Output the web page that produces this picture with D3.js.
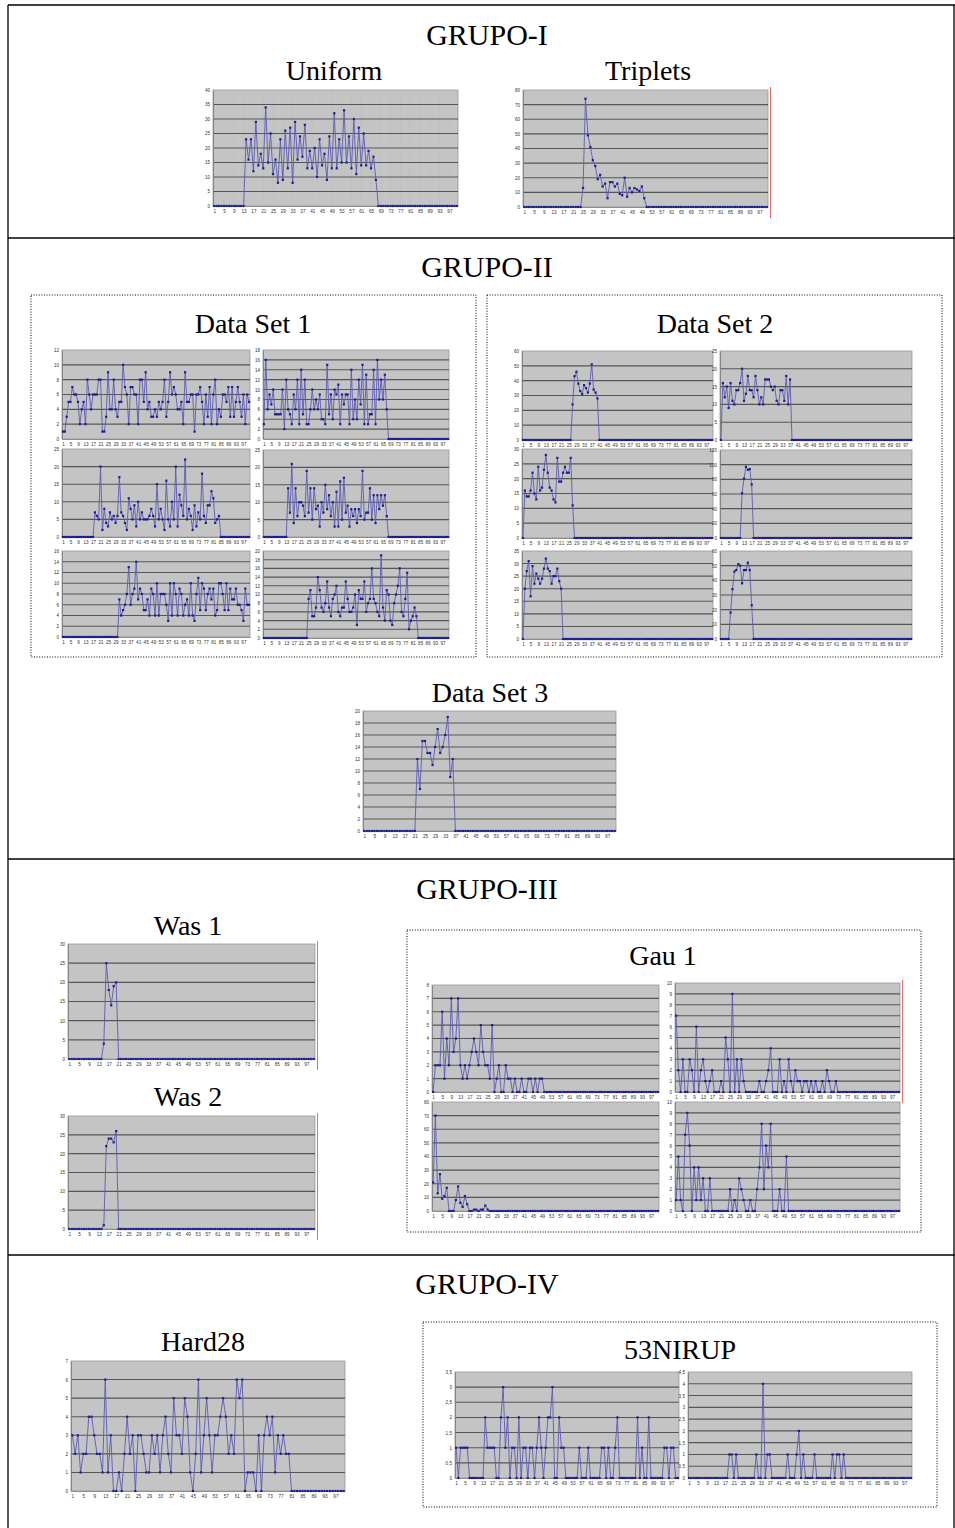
<!DOCTYPE html>
<html>
<head>
<meta charset="utf-8">
<script src="https://cdn.jsdelivr.net/npm/d3@7"></script>
<style>
  body { margin: 0; background: #fff; }
  svg { display: block; }
</style>
</head>
<body>
<svg width="955" height="1528"></svg>
<script>
// ---- data (100 samples per chart) ----
const xTickLabels = [1,5,9,13,17,21,25,29,33,37,41,45,49,53,57,61,65,69,73,77,81,85,89,93,97];

const uniform = [
  0,0,0,0,0,0,0,0,0,0,
  0,0,0,23,16,23,12,29,14,18,
  13,34,15,25,11,16,8,23,9,26,
  13,27,8,29,16,24,17,28,13,19,
  13,20,10,23,14,18,9,24,13,32,
  13,23,15,33,15,24,13,30,11,27,
  14,25,14,19,13,17,9,0,0,0,
  0,0,0,0,0,0,0,0,0,0,
  0,0,0,0,0,0,0,0,0,0,
  0,0,0,0,0,0,0,0,0,0];

const triplets = [
  0,0,0,0,0,0,0,0,0,0,
  0,0,0,0,0,0,0,0,0,0,
  0,0,0,0,13,74,49,41,32,28,
  19,22,14,16,6,17,17,14,16,9,
  8,20,7,13,10,13,12,11,14,6,
  0,0,0,0,0,0,0,0,0,0,
  0,0,0,0,0,0,0,0,0,0,
  0,0,0,0,0,0,0,0,0,0,
  0,0,0,0,0,0,0,0,0,0,
  0,0,0,0,0,0,0,0,0,0];

const ds1a = [
  1,1,3,5,5,7,6,6,5,2,
  4,5,2,8,6,4,6,6,6,8,
  8,1,1,3,9,4,4,8,4,3,
  5,5,10,7,6,2,7,7,6,6,
  2,8,8,5,9,4,5,3,3,4,
  3,5,4,5,8,3,5,9,6,7,
  6,4,4,5,2,9,5,5,6,6,
  1,6,6,7,5,2,6,3,7,2,
  6,8,2,4,3,6,6,5,7,3,
  7,3,5,7,5,3,6,2,6,5];

const ds1b = [
  3,16,6,9,7,10,5,5,5,5,
  10,2,12,6,5,3,9,6,12,3,
  14,5,12,3,3,6,10,6,8,6,
  9,4,4,3,15,5,9,4,10,9,
  11,3,9,7,9,9,3,14,4,8,
  4,12,7,15,3,13,3,5,5,14,
  3,16,8,12,8,13,6,0,0,0,
  0,0,0,0,0,0,0,0,0,0,
  0,0,0,0,0,0,0,0,0,0,
  0,0,0,0,0,0,0,0,0,0];

const ds1c = [
  0,0,0,0,0,0,0,0,0,0,
  0,0,0,0,0,0,0,7,6,5,
  20,2,8,4,3,7,5,6,4,6,
  17,7,6,4,2,11,8,5,9,3,
  10,5,7,5,5,5,6,8,6,3,
  15,5,8,5,2,16,5,3,10,5,
  20,3,12,9,6,22,5,8,6,2,
  9,3,7,5,18,6,4,9,9,13,
  11,4,5,6,0,0,0,0,0,0,
  0,0,0,0,0,0,0,0,0,0];

const ds1d = [
  0,0,0,0,0,0,0,0,0,0,
  0,0,0,14,7,21,4,14,6,10,
  10,9,6,19,7,14,5,14,8,9,
  3,10,7,15,8,12,6,10,3,13,
  3,16,5,17,7,9,3,8,6,8,
  4,8,6,19,5,7,7,14,5,12,
  4,12,8,12,9,12,6,0,0,0,
  0,0,0,0,0,0,0,0,0,0,
  0,0,0,0,0,0,0,0,0,0,
  0,0,0,0,0,0,0,0,0,0];

const ds1e = [
  0,0,0,0,0,0,0,0,0,0,
  0,0,0,0,0,0,0,0,0,0,
  0,0,0,0,0,0,0,0,0,0,
  7,4,5,6,8,13,6,8,9,14,
  7,9,8,5,5,7,4,9,8,4,
  10,4,8,8,8,6,3,10,4,10,
  8,4,9,8,4,6,7,4,10,4,
  3,8,11,5,10,9,5,8,9,7,
  9,4,5,10,10,8,5,10,5,9,
  7,7,9,6,6,5,3,9,6,6];

const ds1f = [
  0,0,0,0,0,0,0,0,0,0,
  0,0,0,0,0,0,0,0,0,0,
  0,0,0,0,9,11,5,5,7,14,
  11,7,6,8,13,7,5,9,10,12,
  6,5,7,7,13,9,6,6,7,10,
  3,11,9,9,13,6,8,9,16,9,
  8,6,5,19,7,4,11,10,4,3,
  8,10,12,16,6,5,9,15,2,4,
  5,7,5,0,0,0,0,0,0,0,
  0,0,0,0,0,0,0,0,0,0];

const ds2a = [
  0,0,0,0,0,0,0,0,0,0,
  0,0,0,0,0,0,0,0,0,0,
  0,0,0,0,0,0,24,43,46,38,
  33,31,37,35,32,38,51,34,32,28,
  0,0,0,0,0,0,0,0,0,0,
  0,0,0,0,0,0,0,0,0,0,
  0,0,0,0,0,0,0,0,0,0,
  0,0,0,0,0,0,0,0,0,0,
  0,0,0,0,0,0,0,0,0,0,
  0,0,0,0,0,0,0,0,0,0];

const ds2b = [
  0,16,12,15,9,16,11,10,14,14,
  16,20,11,13,18,14,14,12,18,14,
  10,12,10,17,17,17,15,14,15,11,
  10,14,14,11,18,10,17,0,0,0,
  0,0,0,0,0,0,0,0,0,0,
  0,0,0,0,0,0,0,0,0,0,
  0,0,0,0,0,0,0,0,0,0,
  0,0,0,0,0,0,0,0,0,0,
  0,0,0,0,0,0,0,0,0,0,
  0,0,0,0,0,0,0,0,0,0];

const ds2c = [
  0,16,14,14,16,22,15,13,24,16,
  17,23,28,22,17,16,13,12,27,19,
  19,22,24,22,22,27,11,0,0,0,
  0,0,0,0,0,0,0,0,0,0,
  0,0,0,0,0,0,0,0,0,0,
  0,0,0,0,0,0,0,0,0,0,
  0,0,0,0,0,0,0,0,0,0,
  0,0,0,0,0,0,0,0,0,0,
  0,0,0,0,0,0,0,0,0,0,
  0,0,0,0,0,0,0,0,0,0];

const ds2d = [
  0,0,0,0,0,0,0,0,0,0,
  0,61,81,97,93,94,73,0,0,0,
  0,0,0,0,0,0,0,0,0,0,
  0,0,0,0,0,0,0,0,0,0,
  0,0,0,0,0,0,0,0,0,0,
  0,0,0,0,0,0,0,0,0,0,
  0,0,0,0,0,0,0,0,0,0,
  0,0,0,0,0,0,0,0,0,0,
  0,0,0,0,0,0,0,0,0,0,
  0,0,0,0,0,0,0,0,0,0];

const ds2e = [
  0,20,27,31,17,29,22,26,24,22,
  24,28,32,28,27,22,25,25,28,23,
  20,0,0,0,0,0,0,0,0,0,
  0,0,0,0,0,0,0,0,0,0,
  0,0,0,0,0,0,0,0,0,0,
  0,0,0,0,0,0,0,0,0,0,
  0,0,0,0,0,0,0,0,0,0,
  0,0,0,0,0,0,0,0,0,0,
  0,0,0,0,0,0,0,0,0,0,
  0,0,0,0,0,0,0,0,0,0];

const ds2f = [
  0,0,0,0,0,18,34,46,47,51,
  50,38,47,47,52,47,23,0,0,0,
  0,0,0,0,0,0,0,0,0,0,
  0,0,0,0,0,0,0,0,0,0,
  0,0,0,0,0,0,0,0,0,0,
  0,0,0,0,0,0,0,0,0,0,
  0,0,0,0,0,0,0,0,0,0,
  0,0,0,0,0,0,0,0,0,0,
  0,0,0,0,0,0,0,0,0,0,
  0,0,0,0,0,0,0,0,0,0];

const ds3 = [
  0,0,0,0,0,0,0,0,0,0,
  0,0,0,0,0,0,0,0,0,0,
  0,12,7,15,15,13,13,11,14,17,
  13,14,16,19,9,12,0,0,0,0,
  0,0,0,0,0,0,0,0,0,0,
  0,0,0,0,0,0,0,0,0,0,
  0,0,0,0,0,0,0,0,0,0,
  0,0,0,0,0,0,0,0,0,0,
  0,0,0,0,0,0,0,0,0,0,
  0,0,0,0,0,0,0,0,0,0];

const was1 = [
  0,0,0,0,0,0,0,0,0,0,
  0,0,0,0,4,25,18,14,19,20,
  0,0,0,0,0,0,0,0,0,0,
  0,0,0,0,0,0,0,0,0,0,
  0,0,0,0,0,0,0,0,0,0,
  0,0,0,0,0,0,0,0,0,0,
  0,0,0,0,0,0,0,0,0,0,
  0,0,0,0,0,0,0,0,0,0,
  0,0,0,0,0,0,0,0,0,0,
  0,0,0,0,0,0,0,0,0,0];

const was2 = [
  0,0,0,0,0,0,0,0,0,0,
  0,0,0,0,1,22,24,24,23,26,
  0,0,0,0,0,0,0,0,0,0,
  0,0,0,0,0,0,0,0,0,0,
  0,0,0,0,0,0,0,0,0,0,
  0,0,0,0,0,0,0,0,0,0,
  0,0,0,0,0,0,0,0,0,0,
  0,0,0,0,0,0,0,0,0,0,
  0,0,0,0,0,0,0,0,0,0,
  0,0,0,0,0,0,0,0,0,0];

const gauTL = [
  0,2,2,2,6,1,4,2,7,3,
  4,7,2,1,2,1,2,3,4,3,
  2,5,3,2,2,1,5,0,1,2,
  0,0,2,1,1,0,1,0,0,1,
  0,0,1,1,0,1,0,1,1,0,
  0,0,0,0,0,0,0,0,0,0,
  0,0,0,0,0,0,0,0,0,0,
  0,0,0,0,0,0,0,0,0,0,
  0,0,0,0,0,0,0,0,0,0,
  0,0,0,0,0,0,0,0,0,0];

const gauBL = [
  21,70,13,27,9,11,17,0,0,0,
  8,18,6,3,11,5,0,0,1,1,
  0,1,1,4,1,0,0,0,0,0,
  0,0,0,0,0,0,0,0,0,0,
  0,0,0,0,0,0,0,0,0,0,
  0,0,0,0,0,0,0,0,0,0,
  0,0,0,0,0,0,0,0,0,0,
  0,0,0,0,0,0,0,0,0,0,
  0,0,0,0,0,0,0,0,0,0,
  0,0,0,0,0,0,0,0,0,0];

const gauTR = [
  7,2,0,3,0,0,3,2,0,6,
  0,2,3,1,0,1,2,0,0,0,
  1,0,5,3,0,9,0,3,0,3,
  1,0,0,0,0,0,0,1,0,0,
  1,2,4,0,0,0,3,0,1,0,
  3,1,0,2,1,1,0,1,1,0,
  1,0,1,0,0,1,0,2,1,0,
  0,1,0,0,0,0,0,0,0,0,
  0,0,0,0,0,0,0,0,0,0,
  0,0,0,0,0,0,0,0,0,0];

const gauBR = [
  1,5,1,0,7,9,6,0,4,1,
  4,1,3,0,0,3,0,0,0,0,
  0,0,0,0,2,0,1,0,3,2,
  1,0,0,1,0,0,2,4,8,2,
  6,4,8,0,0,0,2,0,0,5,
  0,0,0,0,0,0,0,0,0,0,
  0,0,0,0,0,0,0,0,0,0,
  0,0,0,0,0,0,0,0,0,0,
  0,0,0,0,0,0,0,0,0,0,
  0,0,0,0,0,0,0,0,0,0];

const hard28 = [
  3,2,3,1,2,2,4,4,3,2,
  2,1,6,1,3,0,0,1,0,2,
  4,2,3,0,3,3,2,1,1,3,
  2,3,1,3,4,2,1,5,3,3,
  2,5,4,1,0,2,6,1,3,5,
  3,1,3,3,4,5,4,2,3,2,
  6,5,6,0,1,1,1,0,3,0,
  3,4,3,4,1,3,2,3,2,2,
  0,0,0,0,0,0,0,0,0,0,
  0,0,0,0,0,0,0,0,0,0];

const nirupL = [
  1,0,1,1,1,1,0,0,0,0,
  0,0,0,2,1,1,1,1,0,0,
  2,3,1,2,0,1,1,0,2,0,
  1,1,0,1,1,0,1,2,1,0,
  1,2,2,3,0,0,2,1,1,0,
  0,0,0,0,0,1,0,0,0,1,
  0,0,0,0,0,1,1,0,1,0,
  0,1,2,0,0,0,0,0,0,0,
  0,2,0,1,0,0,2,0,0,0,
  0,0,0,1,1,0,1,1,0,0];

const nirupR = [
  0,0,0,0,0,0,0,0,0,0,
  0,0,0,0,0,0,0,0,1,1,
  0,1,0,0,0,0,0,0,0,0,
  1,0,0,4,0,1,1,0,0,0,
  0,0,0,0,1,0,0,0,1,2,
  0,1,0,0,0,0,1,0,0,0,
  0,0,0,0,1,0,1,1,0,1,
  0,0,0,0,0,0,0,0,0,0,
  0,0,0,0,0,0,0,0,0,0,
  0,0,0,0,0,0,0,0,0,0];

// ---- layout ----
const svg = d3.select("svg");
const W = +svg.attr("width");
const serif = "'Liberation Serif', 'Times New Roman', serif";

svg.append("rect").attr("width", W).attr("height", 1528).attr("fill", "#fff");

// outer frame + group separators
const frame = svg.append("g").attr("stroke", "#000").attr("stroke-width", 1.3).attr("fill", "none");
frame.append("line").attr("x1", 8).attr("x2", 8).attr("y1", 5).attr("y2", 1528);
frame.append("line").attr("x1", 954).attr("x2", 954).attr("y1", 5).attr("y2", 1528);
[5, 238, 859, 1255].forEach(y => {
  frame.append("line").attr("x1", 8).attr("x2", 955).attr("y1", y).attr("y2", y);
});

// dotted boxes
[[31, 295, 445, 362], [487, 295, 455, 362], [407, 930, 514, 302], [423, 1322, 514, 185]].forEach(b => {
  svg.append("rect")
    .attr("x", b[0]).attr("y", b[1]).attr("width", b[2]).attr("height", b[3])
    .attr("fill", "none").attr("stroke", "#000").attr("stroke-width", 1)
    .attr("stroke-dasharray", "1,1.6");
});

// titles
const titles = [
  ["GRUPO-I", 487, 45, 30], ["Uniform", 334, 80, 28], ["Triplets", 648, 80, 28],
  ["GRUPO-II", 487, 277, 30], ["Data Set 1", 253, 333, 28], ["Data Set 2", 715, 333, 28],
  ["Data Set 3", 490, 702, 28],
  ["GRUPO-III", 487, 899, 30], ["Was 1", 188, 935, 28], ["Was 2", 188, 1106, 28],
  ["Gau 1", 663, 965, 28],
  ["GRUPO-IV", 487, 1294, 30], ["Hard28", 203, 1351, 28], ["53NIRUP", 680, 1359, 28]
];
titles.forEach(t => {
  svg.append("text").attr("x", t[1]).attr("y", t[2])
    .attr("text-anchor", "middle").attr("font-family", serif)
    .attr("font-size", t[3]).attr("fill", "#000").text(t[0]);
});

// chart placement
const charts = [
  { data: uniform,  x0: 213, x1: 458, y0: 90,   y1: 206,  max: 40,  step: 5, vgrid: true },
  { data: triplets, x0: 523, x1: 768, y0: 90,   y1: 207,  max: 80,  step: 10, red: true },
  { data: ds1a,     x0: 62,  x1: 250, y0: 350,  y1: 439,  max: 12,  step: 2 },
  { data: ds1b,     x0: 263, x1: 449, y0: 350,  y1: 439,  max: 18,  step: 2 },
  { data: ds1c,     x0: 62,  x1: 250, y0: 449,  y1: 537,  max: 25,  step: 5 },
  { data: ds1d,     x0: 263, x1: 449, y0: 450,  y1: 537,  max: 25,  step: 5 },
  { data: ds1e,     x0: 62,  x1: 250, y0: 551,  y1: 637,  max: 16,  step: 2 },
  { data: ds1f,     x0: 263, x1: 449, y0: 551,  y1: 638,  max: 20,  step: 2 },
  { data: ds2a,     x0: 522, x1: 713, y0: 351,  y1: 440,  max: 60,  step: 10 },
  { data: ds2b,     x0: 720, x1: 912, y0: 351,  y1: 440,  max: 25,  step: 5 },
  { data: ds2c,     x0: 522, x1: 713, y0: 449,  y1: 538,  max: 30,  step: 5 },
  { data: ds2d,     x0: 720, x1: 912, y0: 450,  y1: 538,  max: 120, step: 20 },
  { data: ds2e,     x0: 522, x1: 713, y0: 551,  y1: 639,  max: 35,  step: 5 },
  { data: ds2f,     x0: 720, x1: 912, y0: 551,  y1: 639,  max: 60,  step: 10 },
  { data: ds3,      x0: 363, x1: 616, y0: 711,  y1: 831,  max: 20,  step: 2 },
  { data: was1,     x0: 68,  x1: 315, y0: 944,  y1: 1059, max: 30,  step: 5, red: true },
  { data: was2,     x0: 68,  x1: 315, y0: 1116, y1: 1229, max: 30,  step: 5, red: true },
  { data: gauTL,    x0: 432, x1: 659, y0: 985,  y1: 1092, max: 8,   step: 1 },
  { data: gauTR,    x0: 675, x1: 900, y0: 983,  y1: 1092, max: 10,  step: 1, red: true },
  { data: gauBL,    x0: 432, x1: 659, y0: 1102, y1: 1211, max: 80,  step: 10 },
  { data: gauBR,    x0: 675, x1: 900, y0: 1102, y1: 1211, max: 10,  step: 1 },
  { data: hard28,   x0: 71,  x1: 345, y0: 1361, y1: 1491, max: 7,   step: 1 },
  { data: nirupL,   x0: 455, x1: 679, y0: 1372, y1: 1478, max: 3.5, step: 0.5, comma: true },
  { data: nirupR,   x0: 688, x1: 912, y0: 1372, y1: 1478, max: 4.5, step: 0.5, comma: true }
];

function drawChart(c) {
  const g = svg.append("g");
  const n = c.data.length;
  const x = d3.scalePoint().domain(d3.range(1, n + 1)).range([c.x0, c.x1]).padding(0.5);
  const y = d3.scaleLinear().domain([0, c.max]).range([c.y1, c.y0]);
  const yTicks = d3.range(0, c.max + c.step / 2, c.step);

  // plot area
  g.append("rect")
    .attr("x", c.x0).attr("y", c.y0)
    .attr("width", c.x1 - c.x0).attr("height", c.y1 - c.y0)
    .attr("fill", "#c4c4c4").attr("stroke", "#9a9a9a").attr("stroke-width", 0.8);

  if (c.vgrid) {
    g.selectAll(".vg").data(xTickLabels).enter().append("line")
      .attr("x1", d => x(d)).attr("x2", d => x(d))
      .attr("y1", c.y0).attr("y2", c.y1)
      .attr("stroke", "#b2b2b2").attr("stroke-width", 0.6)
      .attr("stroke-dasharray", "1,1.5");
  }

  // horizontal gridlines
  g.selectAll(".hg").data(yTicks.filter(t => t > 0 && t < c.max)).enter().append("line")
    .attr("x1", c.x0).attr("x2", c.x1)
    .attr("y1", d => y(d)).attr("y2", d => y(d))
    .attr("stroke", "#565656").attr("stroke-width", 1.1);

  // axes
  const fmt = c.comma ? (d => String(d).replace(".", ",")) : (d => String(d));
  const ya = g.append("g").attr("transform", `translate(${c.x0},0)`)
    .call(d3.axisLeft(y).tickValues(yTicks).tickFormat(fmt).tickSize(0).tickPadding(3));
  const xa = g.append("g").attr("transform", `translate(0,${c.y1})`)
    .call(d3.axisBottom(x).tickValues(xTickLabels).tickSize(0).tickPadding(3.5));
  [ya, xa].forEach(a => {
    a.select(".domain").attr("stroke", "#7a7a7a").attr("stroke-width", 0.8);
    a.selectAll("text").attr("font-size", 4.6).attr("font-family", "'Liberation Sans', Arial, sans-serif")
      .attr("fill", "#333");
  });

  // series line + markers
  const line = d3.line().x((d, i) => x(i + 1)).y(d => y(d));
  g.append("path").datum(c.data)
    .attr("fill", "none").attr("stroke", "#5a5ab4").attr("stroke-width", 0.9)
    .attr("d", line);
  g.selectAll(".pt").data(c.data).enter().append("rect")
    .attr("x", (d, i) => x(i + 1) - 1.1).attr("y", d => y(d) - 1.1)
    .attr("width", 2.2).attr("height", 2.2)
    .attr("fill", "#1e1e8c");

  if (c.red) {
    g.append("line")
      .attr("x1", c.x1 + 2.5).attr("x2", c.x1 + 2.5)
      .attr("y1", c.y0 - 3).attr("y2", c.y1 + 11)
      .attr("stroke", "#f06a6a").attr("stroke-width", 1);
  }
}

charts.forEach(drawChart);
</script>
</body>
</html>
